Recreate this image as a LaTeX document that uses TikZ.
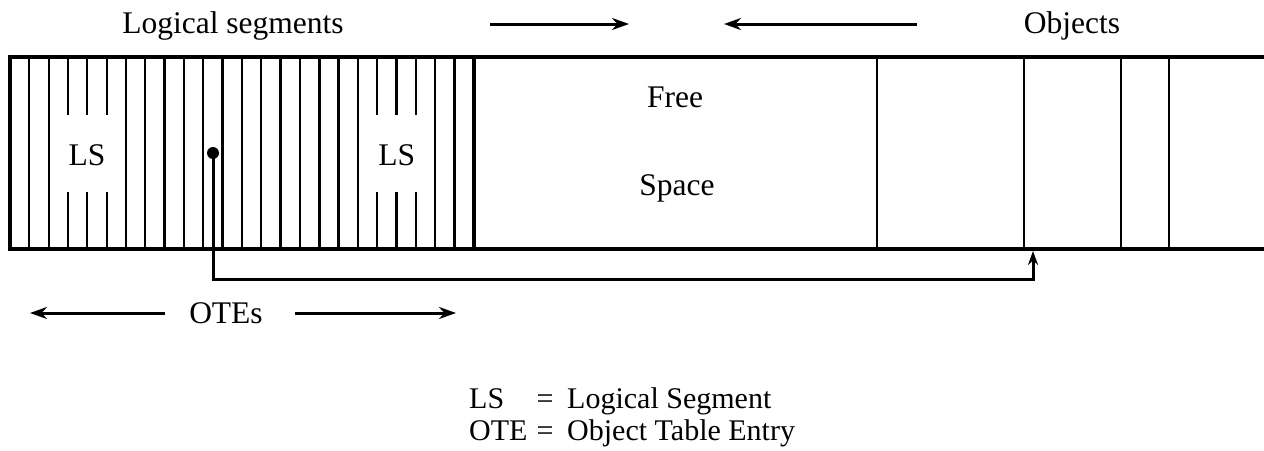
\documentclass[tikz,border=0pt]{standalone}
\usepackage{fontspec}
\setmainfont{Liberation Serif}
\usetikzlibrary{arrows.meta}
\begin{document}
\begin{tikzpicture}[x=1pt,y=-1pt,
  lbl/.style={font=\fontsize{31.5}{36}\selectfont, inner sep=0pt},
  leg/.style={font=\fontsize{30}{34}\selectfont, inner sep=0pt},
  border/.style={line width=3.4pt},
  hatch/.style={line width=2.3pt},
  divider/.style={line width=3.2pt},
  objline/.style={line width=2.8pt},
  arr/.style={line width=3pt,-{Stealth[length=17pt,width=12pt]}},
  conn/.style={line width=3pt,-{Stealth[length=14pt,width=10pt]}}]
\useasboundingbox (0,0) rectangle (1264,450);
% box outline (open to the right)
\draw[border] (1264,57) -- (10,57) -- (10,249) -- (1264,249);
% hatching in the object table: 24 slots of width 19.33
\foreach \k in {1,2,6,7,9,10,11,12,13,14,15,17,18,22,23}{
  \draw[hatch] ({10+19.33*\k},57) -- ({10+19.33*\k},249);
}
\foreach \k in {3,4,5,19,20,21}{
  \draw[hatch] ({10+19.33*\k},57) -- ({10+19.33*\k},115);
  \draw[hatch] ({10+19.33*\k},192) -- ({10+19.33*\k},249);
}
\foreach \k in {8,16,24}{
  \draw[divider] ({10+19.33*\k},57) -- ({10+19.33*\k},249);
}
% object boundaries
\foreach \xx in {877,1024,1121,1169}{
  \draw[objline] (\xx,57) -- (\xx,249);
}
% labels inside box
\node[lbl] (ls1) at (87,155) {LS};
\node[lbl] (ls2) at (396.7,155) {LS};
\node[lbl,anchor=base] (free) at (675,107) {Free};
\node[lbl,anchor=base] (space) at (677,195) {Space};
% OTE pointer
\node[circle,fill=black,inner sep=0pt,minimum size=12pt] (dot) at (213,153) {};
\coordinate (target) at (1033,251);
\draw[conn] (dot.center) -- (213,279) -| (target);
% top labels
\node[lbl,anchor=base] (lsegs) at (233,33) {Logical segments};
\node[lbl,anchor=base] (objs) at (1072,33) {Objects};
\coordinate (ra1) at (490,24);
\coordinate (ra2) at (629,24);
\coordinate (la1) at (917,24);
\coordinate (la2) at (724,24);
\draw[arr] (ra1) -- (ra2);
\draw[arr] (la1) -- (la2);
% OTEs
\node[lbl,anchor=base] (otes) at (226,323) {OTEs};
\coordinate (oa1) at (165,313);
\coordinate (oa2) at (30,313);
\coordinate (ob1) at (295,313);
\coordinate (ob2) at (456,313);
\draw[arr] (oa1) -- (oa2);
\draw[arr] (ob1) -- (ob2);
% legend
\node[leg,anchor=base west] (k1) at (469,408) {LS};
\node[leg,anchor=base] (e1) at (545,408) {=};
\node[leg,anchor=base west] (v1) at (567,408) {Logical Segment};
\node[leg,anchor=base west] (k2) at (469,440) {OTE};
\node[leg,anchor=base] (e2) at (545,440) {=};
\node[leg,anchor=base west] (v2) at (567,440) {Object Table Entry};
\end{tikzpicture}
\end{document}
